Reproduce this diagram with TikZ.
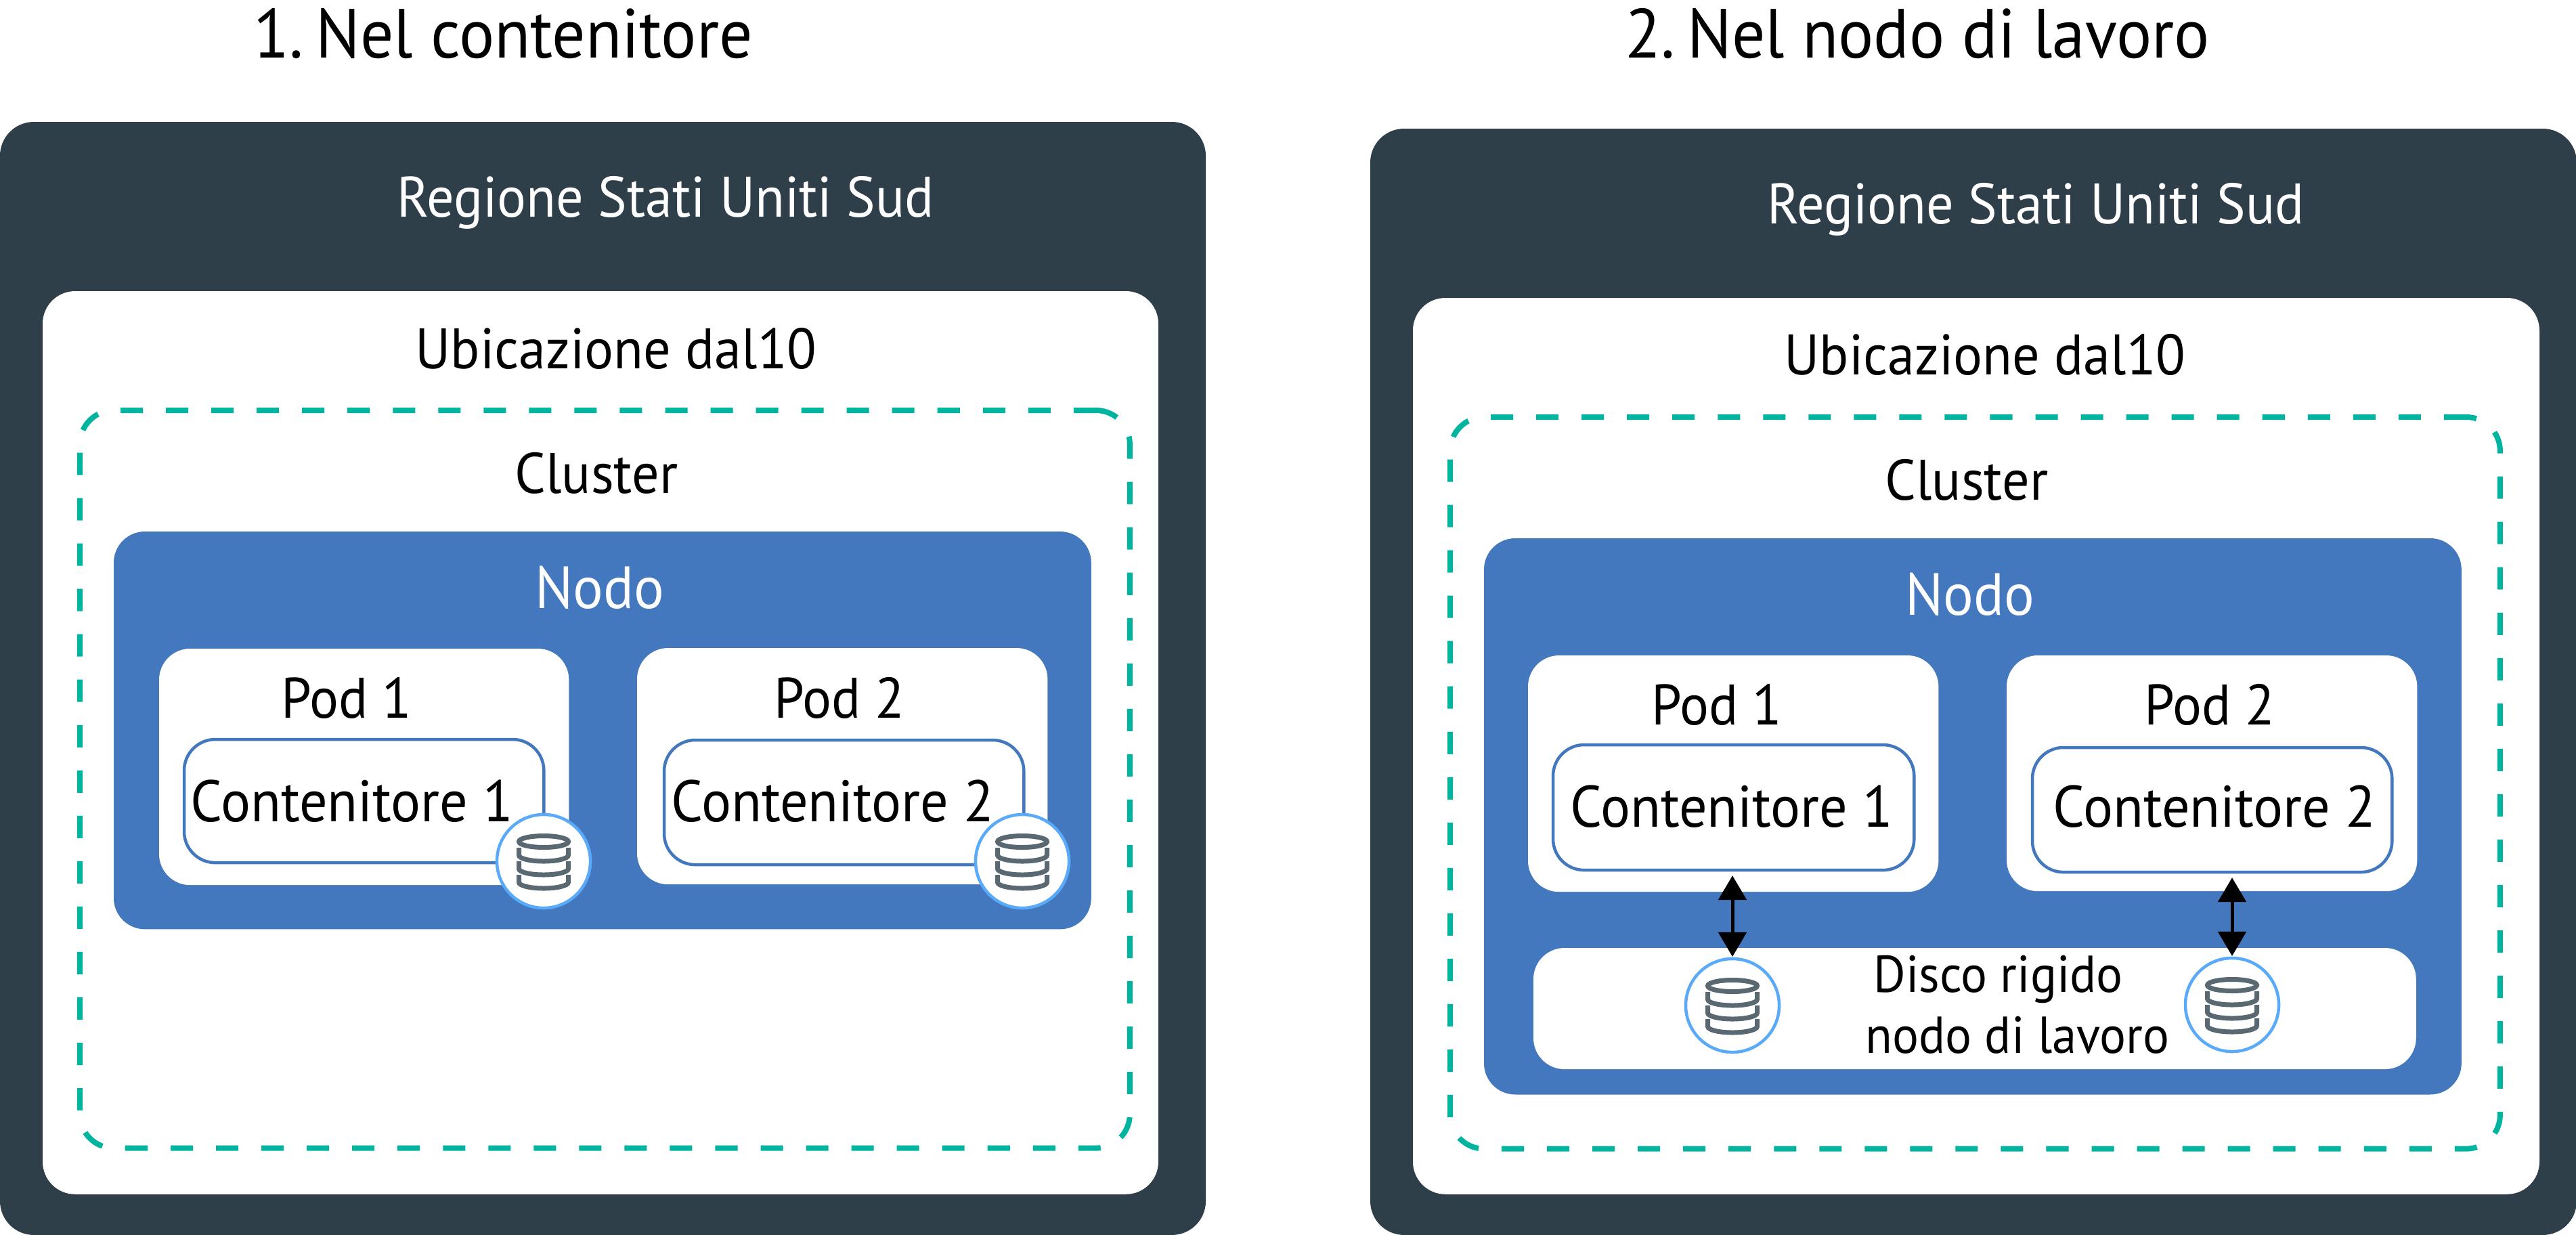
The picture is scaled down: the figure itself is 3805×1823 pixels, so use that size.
\documentclass[tikz,border=0pt]{standalone}
\usepackage{fontspec}
\setmainfont[FakeStretch=0.95]{PT Sans}
\usetikzlibrary{arrows.meta}
\definecolor{slate}{HTML}{2F3F4A}
\definecolor{nodeblue}{HTML}{4378BE}
\definecolor{ringblue}{HTML}{5AAAFA}
\definecolor{clusterteal}{HTML}{00B4A0}
\definecolor{icongrey}{HTML}{5A6872}

\begin{document}
\begin{tikzpicture}[
    x=0.01cm, y=-0.01cm,
    panel/.style={anchor=north west, inner sep=0pt, outer sep=0pt},
    region/.style={panel, fill=slate, rounded corners=0.5cm},
    zone/.style={panel, fill=white, rounded corners=0.48cm},
    cluster/.style={panel, draw=clusterteal, line width=0.08cm, rounded corners=0.5cm,
      dash pattern=on 0.33cm off 0.34cm},
    worker/.style={panel, fill=nodeblue, rounded corners=0.46cm},
    pod/.style={panel, fill=white, rounded corners=0.46cm},
    ctr/.style={panel, fill=white, draw=nodeblue, line width=0.045cm, rounded corners=0.46cm},
    txt/.style={anchor=base, inner sep=0pt, font=\fontsize{24}{25.6}\selectfont},
    ctrtxt/.style={txt, font=\fontsize{24.6}{25.6}\selectfont},
    nodtxt/.style={txt, text=white, font=\fontsize{25}{25.6}\selectfont},
    hddtxt/.style={txt, align=left, font=\fontsize{21.8}{25.6}\selectfont},
    head/.style={anchor=base, inner sep=0pt, font=\fontsize{29.2}{30}\selectfont},
    disk/.style={circle, draw=ringblue, fill=white, line width=0.045cm, minimum size=1.38cm,
      inner sep=0pt, outer sep=0pt},
    link/.style={{Triangle[length=0.36cm, width=0.41cm]}-{Triangle[length=0.36cm, width=0.41cm]},
      line width=0.05cm, shorten >=0.03cm, shorten <=0.08cm},
    dbicon/.pic={
      \draw[icongrey, line width=0.07cm] (0,-29) ellipse [x radius=36.5, y radius=8.5];
      \draw[icongrey, line width=0.07cm] (-36.5,-20) -- (-36.5,-9) arc [start angle=180, end angle=0, x radius=36.5, y radius=9] -- (36.5,-20);
      \draw[icongrey, line width=0.07cm] (-36.5,0) -- (-36.5,11) arc [start angle=180, end angle=0, x radius=36.5, y radius=9] -- (36.5,0);
      \draw[icongrey, line width=0.07cm] (-36.5,20) -- (-36.5,31) arc [start angle=180, end angle=0, x radius=36.5, y radius=9] -- (36.5,20);
    }
  ]
    \useasboundingbox (0,0) rectangle (3805,1823);

    % left panel
    \node[head] (titleA) at (743,85) {1.\hspace{0.18em}Nel contenitore};
    \node[region, minimum width=17.8cm, minimum height=16.43cm] (regA) at (0,180) {};
    \node[txt, text=white] (regtxtA) at (983,320) {Regione Stati Uniti Sud};
    \node[zone, minimum width=16.47cm, minimum height=13.33cm] (zoneA) at (63,430) {};
    \node[txt] (zonetxtA) at (910,544) {Ubicazione dal10};
    \node[cluster, minimum width=15.5cm, minimum height=10.89cm] (cluA) at (118,606) {};
    \node[txt] (clutxtA) at (881,728) {Cluster};
    \node[worker, minimum width=14.43cm, minimum height=5.87cm] (nodA) at (168,785) {};
    \node[nodtxt] (nodtxtA) at (886,898) {Nodo};
    \node[pod, minimum width=6.05cm, minimum height=3.49cm] (podAa) at (235,958) {};
    \node[txt] (podtxtAa) at (512,1060) {Pod 1};
    \node[ctr, minimum width=5.31cm, minimum height=1.82cm] (ctrAa) at (272,1092) {};
    \node[ctrtxt] (ctrtxtAa) at (520,1213) {Contenitore 1};
    \node[pod, minimum width=6.06cm, minimum height=3.49cm] (podAb) at (941,957) {};
    \node[txt] (podtxtAb) at (1240,1060) {Pod 2};
    \node[ctr, minimum width=5.31cm, minimum height=1.84cm] (ctrAb) at (981,1093) {};
    \node[ctrtxt] (ctrtxtAb) at (1230,1213) {Contenitore 2};
    \node[disk] (diskAa) at (803,1272) {};
    \pic at (diskAa) {dbicon};
    \node[disk] (diskAb) at (1510,1272) {};
    \pic at (diskAb) {dbicon};

    % right panel
    \node[head] (titleB) at (2832,85) {2.\hspace{0.18em}Nel nodo di lavoro};
    \node[region, minimum width=17.81cm, minimum height=16.33cm] (regB) at (2024,190) {};
    \node[txt, text=white] (regtxtB) at (3007,330) {Regione Stati Uniti Sud};
    \node[zone, minimum width=16.63cm, minimum height=13.23cm] (zoneB) at (2087,440) {};
    \node[txt] (zonetxtB) at (2932,553) {Ubicazione dal10};
    \node[cluster, minimum width=15.5cm, minimum height=10.8cm] (cluB) at (2142,616) {};
    \node[txt] (clutxtB) at (2905,738) {Cluster};
    \node[worker, minimum width=14.43cm, minimum height=8.21cm] (nodB) at (2192,795) {};
    \node[nodtxt] (nodtxtB) at (2910,908) {Nodo};
    \node[pod, minimum width=6.06cm, minimum height=3.49cm] (podBa) at (2257,968) {};
    \node[txt] (podtxtBa) at (2536,1070) {Pod 1};
    \node[ctr, minimum width=5.33cm, minimum height=1.85cm] (ctrBa) at (2294,1100) {};
    \node[ctrtxt] (ctrtxtBa) at (2558,1221) {Contenitore 1};
    \node[pod, minimum width=6.06cm, minimum height=3.48cm] (podBb) at (2964,968) {};
    \node[txt] (podtxtBb) at (3264,1070) {Pod 2};
    \node[ctr, minimum width=5.31cm, minimum height=1.84cm] (ctrBb) at (3002,1104) {};
    \node[ctrtxt] (ctrtxtBb) at (3271,1221) {Contenitore 2};
    \node[pod, minimum width=13.03cm, minimum height=1.79cm] (hdd) at (2265,1400) {};
    \node[hddtxt] (hddlabel) at (2980,1555) {\hspace*{0.12cm}Disco rigido\\nodo di lavoro};
    \node[disk] (diskBa) at (2559,1485) {};
    \pic at (diskBa) {dbicon};
    \node[disk] (diskBb) at (3297,1484) {};
    \pic at (diskBb) {dbicon};
    \draw[link] (ctrBa.south -| diskBa) -- (diskBa.north);
    \draw[link] (ctrBb.south -| diskBb) -- (diskBb.north);
  \end{tikzpicture}
\end{document}
